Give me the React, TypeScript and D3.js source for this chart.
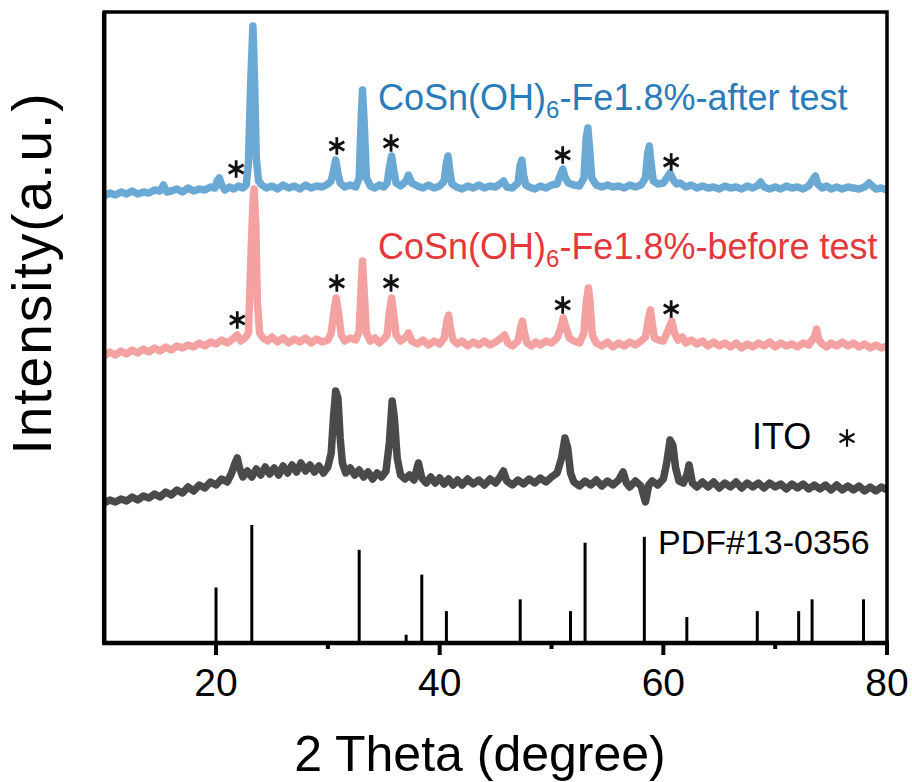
import React from "react";
import * as d3 from "d3";

// ---------- data (2θ in degrees, intensity in a.u., curves already stacked) ----------
const afterTest: [number, number][] = [
  [10.0, 447], [10.5, 450], [11.0, 448], [11.5, 451], [12.0, 449], [12.5, 452], [13.0, 449], [13.5, 451],
  [14.0, 450], [14.5, 453], [15.0, 452], [15.3, 458], [15.6, 451], [16.0, 452], [16.5, 454], [17.0, 451],
  [17.5, 455], [18.0, 452], [18.5, 454], [19.0, 453], [19.5, 456], [19.9, 455], [20.1, 462], [20.3, 465],
  [20.5, 458], [20.8, 453], [21.2, 456], [21.6, 454], [22.0, 457], [22.4, 455], [22.7, 458], [22.9, 480],
  [23.1, 560], [23.3, 617], [23.45, 560], [23.6, 485], [23.8, 462], [24.1, 458], [24.5, 455], [25.0, 457],
  [25.5, 454], [26.0, 458], [26.5, 455], [27.0, 457], [27.5, 454], [28.0, 458], [28.5, 455], [29.0, 457],
  [29.5, 456], [30.0, 459], [30.3, 462], [30.5, 472], [30.7, 483], [30.9, 470], [31.1, 460], [31.5, 456],
  [32.0, 458], [32.5, 456], [32.8, 465], [33.0, 530], [33.1, 553], [33.25, 520], [33.45, 465], [33.8, 457],
  [34.2, 455], [34.6, 458], [35.0, 456], [35.3, 460], [35.5, 475], [35.7, 487], [35.9, 472], [36.1, 460],
  [36.5, 457], [37.0, 462], [37.2, 468], [37.5, 460], [38.0, 457], [38.5, 455], [39.0, 458], [39.5, 455],
  [40.0, 457], [40.4, 462], [40.6, 480], [40.75, 487], [40.9, 472], [41.1, 459], [41.5, 456], [42.0, 454],
  [42.5, 457], [43.0, 455], [43.5, 458], [44.0, 455], [44.5, 457], [45.0, 456], [45.5, 460], [45.7, 462],
  [46.0, 456], [46.5, 455], [47.0, 460], [47.2, 478], [47.35, 483], [47.5, 468], [47.7, 458], [48.0, 456],
  [48.5, 454], [49.0, 457], [49.5, 455], [50.0, 458], [50.5, 459], [50.8, 468], [51.0, 474], [51.2, 466],
  [51.5, 460], [52.0, 458], [52.5, 457], [52.9, 465], [53.1, 505], [53.25, 515], [53.4, 495], [53.6, 465],
  [54.0, 458], [54.5, 456], [55.0, 458], [55.5, 456], [56.0, 457], [56.5, 455], [57.0, 458], [57.5, 456],
  [58.0, 458], [58.4, 465], [58.6, 490], [58.75, 497], [58.9, 480], [59.1, 462], [59.5, 459], [60.0, 460],
  [60.3, 465], [60.6, 470], [60.9, 463], [61.2, 459], [61.5, 460], [62.0, 456], [62.5, 458], [63.0, 455],
  [63.5, 457], [64.0, 455], [64.5, 456], [65.0, 454], [65.5, 457], [66.0, 455], [66.5, 456], [67.0, 454],
  [67.5, 457], [68.0, 455], [68.5, 458], [68.7, 461], [69.0, 456], [69.5, 454], [70.0, 456], [70.5, 454],
  [71.0, 457], [71.5, 455], [72.0, 456], [72.5, 454], [73.0, 457], [73.4, 464], [73.6, 467], [73.8, 459],
  [74.2, 455], [74.6, 457], [75.0, 454], [75.5, 456], [76.0, 454], [76.5, 456], [77.0, 455], [77.5, 454],
  [78.0, 456], [78.4, 460], [78.7, 457], [79.0, 454], [79.5, 455], [80.0, 453],
];

const beforeTest: [number, number][] = [
  [10.0, 287], [10.5, 291], [11.0, 288], [11.5, 292], [12.0, 289], [12.5, 293], [13.0, 290], [13.5, 294],
  [14.0, 291], [14.5, 295], [15.0, 292], [15.5, 296], [16.0, 293], [16.5, 297], [17.0, 295], [17.5, 298],
  [18.0, 296], [18.5, 300], [19.0, 297], [19.5, 301], [20.0, 299], [20.5, 303], [21.0, 300], [21.5, 304],
  [21.9, 308], [22.2, 302], [22.6, 305], [22.9, 310], [23.1, 380], [23.3, 440], [23.4, 454], [23.55, 420],
  [23.7, 340], [23.9, 310], [24.2, 305], [24.6, 302], [25.0, 306], [25.5, 301], [26.0, 305], [26.5, 300],
  [27.0, 304], [27.5, 301], [28.0, 305], [28.5, 300], [29.0, 304], [29.5, 301], [30.0, 303], [30.3, 310],
  [30.55, 332], [30.75, 345], [30.95, 330], [31.2, 308], [31.5, 302], [32.0, 305], [32.5, 303], [32.8, 312],
  [33.0, 360], [33.1, 382], [33.25, 350], [33.45, 310], [33.8, 302], [34.2, 305], [34.6, 300], [35.0, 304],
  [35.3, 308], [35.5, 330], [35.7, 345], [35.9, 328], [36.1, 308], [36.5, 302], [37.0, 306], [37.2, 310],
  [37.5, 302], [38.0, 299], [38.5, 303], [39.0, 298], [39.5, 302], [40.0, 299], [40.4, 305], [40.65, 322],
  [40.8, 328], [40.95, 315], [41.2, 303], [41.6, 299], [42.0, 302], [42.5, 297], [43.0, 301], [43.5, 298],
  [44.0, 302], [44.5, 298], [45.0, 301], [45.5, 305], [45.8, 308], [46.1, 300], [46.5, 297], [47.0, 302],
  [47.25, 316], [47.4, 322], [47.55, 312], [47.8, 300], [48.2, 297], [48.6, 301], [49.0, 298], [49.5, 302],
  [50.0, 300], [50.5, 305], [50.8, 314], [51.05, 325], [51.3, 315], [51.6, 305], [52.0, 302], [52.5, 300],
  [52.9, 310], [53.1, 340], [53.3, 355], [53.45, 340], [53.65, 308], [54.0, 300], [54.5, 297], [55.0, 301],
  [55.5, 296], [56.0, 300], [56.5, 297], [57.0, 301], [57.5, 298], [58.0, 302], [58.4, 306], [58.7, 326],
  [58.85, 333], [59.0, 320], [59.2, 305], [59.6, 303], [60.0, 302], [60.4, 312], [60.75, 322], [61.0, 310],
  [61.3, 303], [61.7, 306], [62.0, 300], [62.5, 303], [63.0, 299], [63.5, 302], [64.0, 297], [64.5, 301],
  [65.0, 297], [65.5, 300], [66.0, 296], [66.5, 300], [67.0, 295], [67.5, 299], [68.0, 296], [68.5, 300],
  [69.0, 297], [69.5, 301], [70.0, 296], [70.5, 300], [71.0, 297], [71.5, 299], [72.0, 296], [72.5, 300],
  [73.0, 298], [73.5, 306], [73.7, 314], [73.9, 303], [74.2, 299], [74.6, 296], [75.0, 300], [75.5, 297],
  [76.0, 301], [76.5, 297], [77.0, 300], [77.5, 296], [78.0, 299], [78.5, 295], [79.0, 298], [79.5, 295],
  [80.0, 297],
];

const ito: [number, number][] = [
  [10.0, 140], [10.5, 143], [11.0, 141], [11.5, 144], [12.0, 142], [12.5, 146], [13.0, 143], [13.5, 147],
  [14.0, 145], [14.5, 149], [15.0, 146], [15.5, 151], [16.0, 148], [16.5, 153], [17.0, 150], [17.5, 156],
  [18.0, 152], [18.5, 158], [19.0, 155], [19.5, 161], [20.0, 158], [20.5, 164], [21.0, 161], [21.4, 170],
  [21.7, 180], [21.9, 185], [22.1, 175], [22.4, 166], [22.8, 172], [23.2, 166], [23.6, 174], [24.0, 168],
  [24.4, 176], [24.8, 169], [25.2, 175], [25.6, 168], [26.0, 177], [26.4, 170], [26.8, 178], [27.2, 171],
  [27.6, 180], [28.0, 172], [28.4, 178], [28.8, 171], [29.2, 177], [29.6, 170], [30.0, 176], [30.3, 190],
  [30.5, 225], [30.7, 252], [30.9, 245], [31.1, 205], [31.3, 180], [31.6, 170], [32.0, 175], [32.4, 168],
  [32.8, 173], [33.2, 166], [33.6, 171], [34.0, 164], [34.4, 170], [34.8, 166], [35.2, 172], [35.5, 200],
  [35.75, 242], [35.95, 225], [36.2, 185], [36.5, 168], [36.9, 164], [37.3, 168], [37.7, 163], [38.1, 180],
  [38.4, 165], [38.8, 160], [39.2, 166], [39.6, 160], [40.0, 165], [40.4, 159], [40.8, 164], [41.2, 158],
  [41.6, 163], [42.0, 158], [42.5, 164], [43.0, 159], [43.5, 163], [44.0, 158], [44.5, 164], [45.0, 160],
  [45.4, 166], [45.7, 172], [46.0, 162], [46.5, 158], [47.0, 163], [47.5, 159], [48.0, 164], [48.5, 160],
  [49.0, 165], [49.5, 161], [50.0, 166], [50.5, 170], [50.9, 185], [51.2, 205], [51.45, 195], [51.7, 170],
  [52.0, 161], [52.5, 157], [53.0, 162], [53.5, 158], [54.0, 163], [54.5, 157], [55.0, 162], [55.5, 158],
  [56.0, 163], [56.4, 171], [56.7, 160], [57.0, 156], [57.5, 162], [58.0, 157], [58.4, 141], [58.7, 158],
  [59.0, 162], [59.5, 158], [60.0, 164], [60.3, 180], [60.6, 203], [60.85, 198], [61.1, 175], [61.4, 162],
  [61.8, 160], [62.1, 168], [62.3, 178], [62.6, 160], [63.0, 156], [63.5, 161], [64.0, 156], [64.5, 161],
  [65.0, 155], [65.5, 160], [66.0, 156], [66.5, 161], [67.0, 155], [67.5, 160], [68.0, 156], [68.5, 160],
  [69.0, 155], [69.5, 160], [70.0, 156], [70.5, 159], [71.0, 154], [71.5, 159], [72.0, 155], [72.5, 159],
  [73.0, 154], [73.5, 158], [74.0, 154], [74.5, 158], [75.0, 153], [75.5, 158], [76.0, 153], [76.5, 157],
  [77.0, 153], [77.5, 157], [78.0, 152], [78.5, 156], [79.0, 152], [79.5, 156], [80.0, 153],
];

// PDF#13-0356 reference lines: 2θ and relative intensity
const pdfAngles = [20.0, 23.2, 32.8, 37.0, 38.4, 40.6, 47.2, 51.7, 53.0, 58.3, 62.1, 68.4, 72.1, 73.3, 77.9];
const pdfIntensity = [47, 100, 79, 7, 58, 27, 37, 27, 85, 90, 22, 27, 27, 37, 37];

// asterisk markers (ITO reflections) for each stacked curve: [2θ, a.u.]
const afterStars: [number, number][] = [[21.8, 474], [30.8, 497], [35.65, 500], [51.0, 488], [60.7, 481]];
const beforeStars: [number, number][] = [[21.9, 323], [30.8, 360], [35.65, 360], [51.0, 338], [60.7, 334]];

const majorTicks = [20, 40, 60, 80];
const minorTicks = [30, 50, 70];

const FONT = "'Liberation Sans', Arimo, Arial, Helvetica, sans-serif";

export default function App() {
  const W = 912, H = 782;
  const left = 104.2, right = 887, top = 12, bottom = 643;
  const x = d3.scaleLinear().domain([10, 80]).range([left, right]);
  const y = d3.scaleLinear().domain([0, 631]).range([bottom, top]);
  const yPdf = d3.scaleLinear().domain([0, 100]).range([bottom, 525]);
  const line = d3.line<[number, number]>().x((d) => x(d[0])).y((d) => y(d[1]));
  const star = d3.symbol().type(d3.symbolAsterisk).size(210)() as string;

  const blueLine = "#6BA9D5";
  const blueText = "#2A7BBA";
  const pinkLine = "#F4A1A1";
  const redText = "#E5383D";
  const grayLine = "#4A4A4A";

  return (
    <div style={{ position: "absolute", left: 0, top: 0 }}>
      <svg width={W} height={H} style={{ display: "block", background: "#fff" }} fontFamily={FONT}>
        <defs>
          <clipPath id="plot">
            <rect x={left} y={top} width={right - left} height={bottom - top} />
          </clipPath>
        </defs>
        <g clipPath="url(#plot)">
          {pdfAngles.map((a, i) => (
            <line key={i} x1={x(a)} x2={x(a)} y1={bottom} y2={yPdf(pdfIntensity[i])} stroke="#000" strokeWidth={3} />
          ))}
          <path d={line(ito) || ""} fill="none" stroke={grayLine} strokeWidth={7.5} strokeLinejoin="round" />
          <path d={line(beforeTest) || ""} fill="none" stroke={pinkLine} strokeWidth={7.5} strokeLinejoin="round" />
          <path d={line(afterTest) || ""} fill="none" stroke={blueLine} strokeWidth={7.5} strokeLinejoin="round" />
        </g>
        {[...afterStars, ...beforeStars].map((s, i) => (
          <path key={i} d={star} transform={`translate(${x(s[0])},${y(s[1])})`} stroke="#111" strokeWidth={2.8} fill="none" />
        ))}

        {/* frame */}
        <rect x={left} y={top} width={right - left} height={bottom - top} fill="none" stroke="#000" strokeWidth={3.5} />
        <line x1={left - 2} x2={right + 2} y1={bottom} y2={bottom} stroke="#000" strokeWidth={4.5} />
        <line x1={left} x2={left} y1={top} y2={bottom} stroke="#000" strokeWidth={4.5} />

        {/* x ticks */}
        {majorTicks.map((t) => (
          <g key={t}>
            <line x1={x(t)} x2={x(t)} y1={bottom} y2={bottom + 12} stroke="#000" strokeWidth={4} />
            <text x={x(t)} y={696} textAnchor="middle" fontSize={39} fill="#000">{t}</text>
          </g>
        ))}
        {minorTicks.map((t) => (
          <line key={t} x1={x(t)} x2={x(t)} y1={bottom} y2={bottom + 6} stroke="#000" strokeWidth={4} />
        ))}

        {/* axis titles */}
        <text x={480} y={771} textAnchor="middle" fontSize={50} fill="#000">2 Theta (degree)</text>
        <text transform="translate(51,273) rotate(-90)" textAnchor="middle" fontSize={55} letterSpacing={2} fill="#000">Intensity(a.u.)</text>

        {/* curve labels */}
        <text x={378} y={110} fontSize={36} fill={blueText}>
          CoSn(OH)<tspan fontSize={24} dy={8}>6</tspan><tspan dy={-8}>-Fe1.8%-after test</tspan>
        </text>
        <text x={378} y={259} fontSize={36} fill={redText}>
          CoSn(OH)<tspan fontSize={24} dy={8}>6</tspan><tspan dy={-8}>-Fe1.8%-before test</tspan>
        </text>
        <text x={752} y={449} fontSize={36} fill="#000">ITO</text>
        <path d={star} transform={`translate(847,438)`} stroke="#111" strokeWidth={2.2} fill="none" />
        <text x={658} y={554} fontSize={34} fill="#000">PDF#13-0356</text>
      </svg>
    </div>
  );
}
